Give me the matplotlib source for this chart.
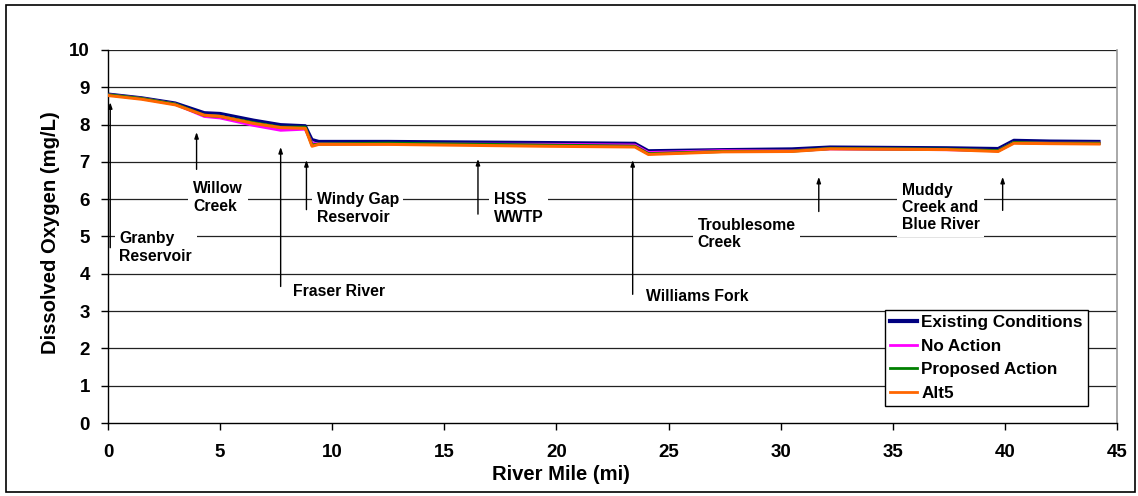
import matplotlib
matplotlib.use("Agg")
import matplotlib.pyplot as plt
from matplotlib.patches import Rectangle

plt.rcParams['font.family'] = ['Liberation Sans', 'DejaVu Sans']
plt.rcParams['font.weight'] = 'bold'

# ---- data ----
miles = [0, 1.5, 3.0, 4.3, 5.0, 6.5, 7.7, 8.8, 9.1, 9.4, 12.5, 19.5, 23.5, 24.1,
         27.4, 30.5, 32.2, 37.4, 39.7, 40.4, 42.0, 44.2]
existing = [8.82, 8.72, 8.58, 8.32, 8.30, 8.12, 8.00, 7.97, 7.60, 7.55, 7.55, 7.52,
            7.50, 7.30, 7.33, 7.35, 7.40, 7.38, 7.36, 7.58, 7.56, 7.55]
no_action = [8.80, 8.70, 8.55, 8.22, 8.18, 7.98, 7.85, 7.88, 7.50, 7.48, 7.48, 7.47,
             7.45, 7.25, 7.30, 7.30, 7.35, 7.33, 7.30, 7.52, 7.50, 7.50]
proposed = [8.80, 8.70, 8.55, 8.25, 8.22, 8.05, 7.93, 7.93, 7.45, 7.48, 7.50, 7.45,
            7.42, 7.22, 7.28, 7.29, 7.36, 7.34, 7.30, 7.52, 7.50, 7.50]
alt5 = [8.78, 8.68, 8.53, 8.25, 8.22, 8.03, 7.92, 7.90, 7.42, 7.47, 7.47, 7.42,
        7.40, 7.20, 7.27, 7.28, 7.35, 7.33, 7.28, 7.50, 7.49, 7.48]

series_names = ["Existing Conditions", "No Action", "Proposed Action", "Alt5"]
series_colors = ["#000080", "#FF00FF", "#008000", "#FF6600"]

# annotations: label, text x, text y (center), arrow x, tail y, tip y
ann_labels = ["Granby\nReservoir", "Willow\nCreek", "Fraser River", "Windy Gap\nReservoir",
              "HSS\nWWTP", "Williams Fork", "Troublesome\nCreek", "Muddy\nCreek and\nBlue River"]
ann_text_x = [0.5, 3.8, 8.27, 9.3, 17.2, 24.0, 26.3, 35.4]
ann_text_y = [4.70, 6.05, 3.53, 5.75, 5.75, 3.38, 5.07, 5.78]
ann_arrow_x = [0.1, 3.95, 7.7, 8.85, 16.5, 23.4, 31.7, 39.9]
ann_tail_y = [4.7, 6.8, 3.66, 5.72, 5.6, 3.45, 5.67, 5.7]
ann_tip_y = [8.6, 7.8, 7.4, 7.05, 7.08, 7.05, 6.6, 6.6]

xticks = [0, 5, 10, 15, 20, 25, 30, 35, 40, 45]
yticks = [0, 1, 2, 3, 4, 5, 6, 7, 8, 9, 10]

W, H = 1138, 496
fig = plt.figure(figsize=(W / 100, H / 100), dpi=100)
fig.patch.set_facecolor("white")
fig.add_artist(Rectangle((6 / W, 4 / H), (W - 9) / W, (H - 9) / H, transform=fig.transFigure,
                         fill=False, edgecolor="black", lw=1.2))

ax = fig.add_axes([108 / W, 1 - 423 / H, (1117 - 108) / W, (423 - 50) / H])
ax.set_xlim(0, 45)
ax.set_ylim(0, 10)

for y in yticks[1:]:
    ax.axhline(y, color="#222222", lw=0.9, zorder=1)

for vals, name, col in zip([existing, no_action, proposed, alt5], series_names, series_colors):
    ax.plot(miles, vals, color=col, lw=2.2, label=name, zorder=3, solid_joinstyle="round")

for lab, tx, ty, axx, t0, t1 in zip(ann_labels, ann_text_x, ann_text_y, ann_arrow_x, ann_tail_y, ann_tip_y):
    ax.text(tx, ty, lab, ha="left", va="center", fontsize=11.3, fontweight="bold",
            color="black", linespacing=1.2, zorder=4,
            bbox=dict(boxstyle="square,pad=0.3", fc="white", ec="none"))
    ax.annotate("", xy=(axx, t1), xytext=(axx, t0),
                arrowprops=dict(arrowstyle="-|>,head_length=0.35,head_width=0.12",
                                color="black", lw=1.0, shrinkA=0, shrinkB=0), zorder=5)

ax.set_xticks(xticks)
ax.set_yticks(yticks)
ax.tick_params(axis="both", direction="out", length=5, width=1, labelsize=13.5)
ax.tick_params(axis="x", pad=10)
ax.tick_params(axis="y", pad=8)
for lbl in ax.get_xticklabels() + ax.get_yticklabels():
    lbl.set_fontweight("bold")

for s in ["left", "bottom"]:
    ax.spines[s].set_color("black")
    ax.spines[s].set_linewidth(1.0)
ax.spines["right"].set_color("#999999")
ax.spines["right"].set_linewidth(1.2)
ax.spines["top"].set_visible(False)
ax.spines["bottom"].set_zorder(6)

leg = ax.legend(loc="lower right", bbox_to_anchor=(0.971, 0.0456), borderaxespad=0,
                prop={"weight": "bold", "size": 12.3}, frameon=True, fancybox=False,
                edgecolor="black", framealpha=1, handlelength=1.58, handletextpad=0.25,
                labelspacing=0.5, borderpad=0.3)
leg.get_frame().set_linewidth(1.0)
leg.legend_handles[0].set_linewidth(3.0)
for h in leg.legend_handles[1:]:
    h.set_linewidth(2.0)
leg.set_zorder(10)

fig.text(561 / W, 1 - 475 / H, "River Mile (mi)", ha="center", va="center",
         fontsize=14.6, fontweight="bold")
fig.text(51 / W, 1 - 233 / H, "Dissolved Oxygen (mg/L)", ha="center", va="center",
         rotation=90, fontsize=14.6, fontweight="bold")

fig.savefig("out.png", dpi=100, facecolor="white")
